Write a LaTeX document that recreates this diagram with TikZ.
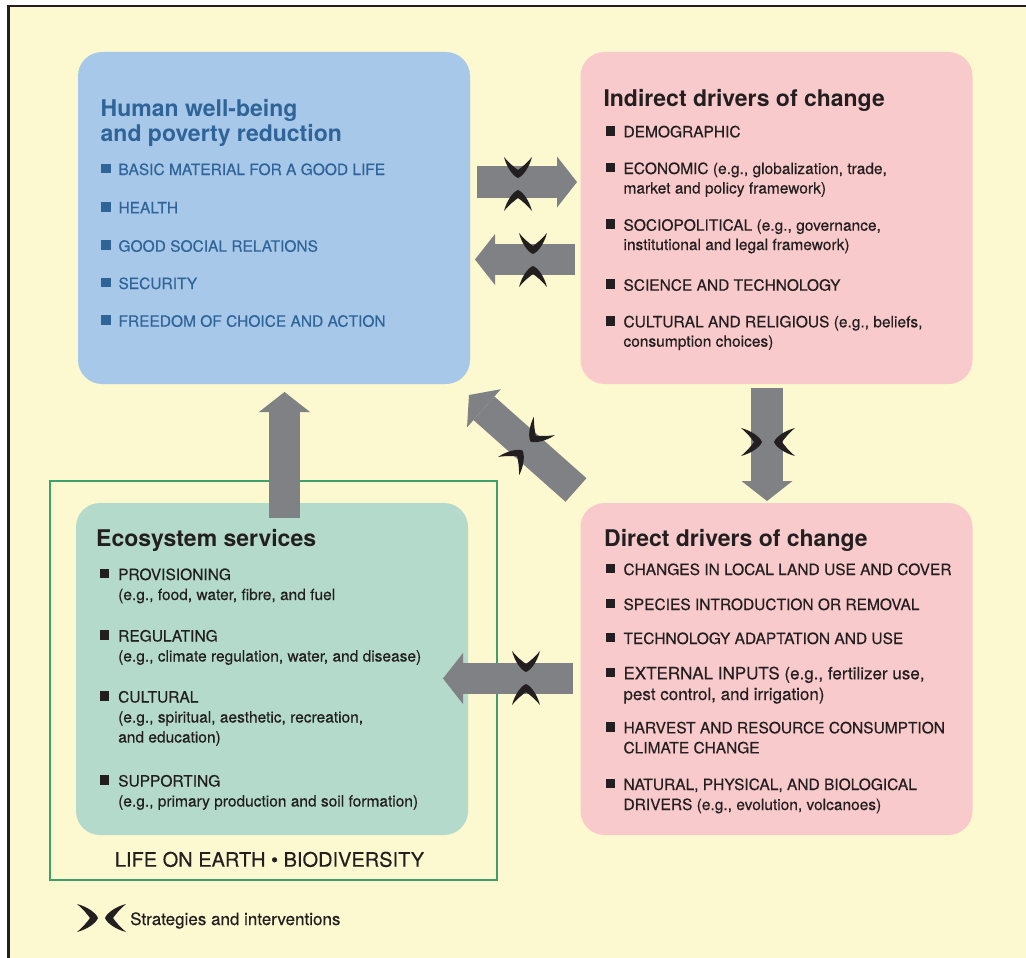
\documentclass[tikz,border=0pt]{standalone}
\usepackage{fontspec}
\setmainfont{TeX Gyre Heros}
\newfontfamily\itemfont[FakeBold=0.35]{TeX Gyre Heros}
\usetikzlibrary{arrows.meta}
\frenchspacing
\definecolor{cream}{HTML}{FCF8CF}
\definecolor{bluebox}{HTML}{A8C8E9}
\definecolor{pinkbox}{HTML}{F9CACB}
\definecolor{greenbox}{HTML}{B3DACA}
\definecolor{greenline}{HTML}{3F9F6B}
\definecolor{arrowgray}{HTML}{808184}
\definecolor{bluetxt}{HTML}{2F6499}
\definecolor{darktxt}{HTML}{231F20}
\tikzset{
  box/.style={draw=none, inner sep=0pt, rounded corners=24pt, minimum width=392pt, minimum height=332pt},
  ttl/.style={anchor=base west, inner sep=0pt, font=\fontsize{23}{26}\selectfont\bfseries, text=darktxt},
  itm/.style={anchor=base west, inner sep=0pt, font=\itemfont\fontsize{15.5}{18}\selectfont},
  bigitm/.style={anchor=base west, inner sep=0pt, font=\itemfont\fontsize{17}{20}\selectfont},
  bul/.style={inner sep=0pt, minimum size=9.5pt, draw=none},
  fat/.style={draw=arrowgray, line width=31.5pt, -{Triangle[length=20pt,width=51pt,line width=0pt]}},
  cres/.pic={\fill[darktxt] (-14,-21) .. controls (-11,-10) and (-5,-2) .. (0,0) .. controls (5,-2) and (11,-10) .. (14,-21)
      .. controls (8,-14) and (4,-11) .. (0,-8) .. controls (-4,-11) and (-8,-14) .. (-14,-21) -- cycle;}
}
% #1 name, #2 bullet x, #3 text x, #4 baseline y, #5 colour, #6 text
\newcommand\mkitem[6]{%
  \node[bul, fill=#5] (#1b) at (#2,#4-6.5) {};
  \node[itm, text=#5] (#1) at (#3,#4) {#6};
}
% #1 x, #2 y, #3 angle, #4 offset
\newcommand\strat[4]{%
  \pic[rotate=#3] at ([shift={(#3+90:#4pt)}]#1,#2) {cres};
  \pic[rotate=#3+180] at ([shift={(#3-90:#4pt)}]#1,#2) {cres};
}
\begin{document}
\begin{tikzpicture}[x=1pt, y=-1pt]
\useasboundingbox (0,0) rectangle (1026,958);
\fill[white] (0,0) rectangle (1026,958);
\fill[cream] (8.5,6) rectangle (1026,958);
\draw[darktxt, line width=2.5pt] (8.5,958) -- (8.5,6) -- (1026,6);

% life on earth frame
\draw[greenline, line width=2pt] (50,481) rectangle (496.5,880);

% boxes
\node[box, fill=bluebox] (hw) at (274,218) {};
\node[box, fill=pinkbox] (ind) at (776.5,218) {};
\node[box, fill=greenbox] (eco) at (272,669) {};
\node[box, fill=pinkbox] (dir) at (776.5,669) {};

% human well-being
\node[ttl, text=bluetxt] (hwt1) at (100.5,116.7) {Human well-being};
\node[ttl, text=bluetxt] (hwt2) at (100.5,141.7) {and poverty reduction};
\mkitem{hw1}{106}{118.3}{175}{bluetxt}{BASIC MATERIAL FOR A GOOD LIFE}
\mkitem{hw2}{106}{118.3}{213.3}{bluetxt}{HEALTH}
\mkitem{hw3}{106}{118.3}{251.7}{bluetxt}{GOOD SOCIAL RELATIONS}
\mkitem{hw4}{106}{118.3}{289}{bluetxt}{SECURITY}
\mkitem{hw5}{106}{118.3}{326.7}{bluetxt}{FREEDOM OF CHOICE AND ACTION}

% indirect drivers
\node[ttl] (indt) at (603.3,106.7) {Indirect drivers of change};
\mkitem{ind1}{610.5}{623.3}{137.3}{darktxt}{DEMOGRAPHIC}
\mkitem{ind2}{610.5}{623.3}{174}{darktxt}{ECONOMIC (e.g., globalization, trade,}
\node[itm, text=darktxt] (ind2c) at (623.3,193.5) {market and policy framework)};
\mkitem{ind3}{610.5}{623.3}{230.7}{darktxt}{SOCIOPOLITICAL (e.g., governance,}
\node[itm, text=darktxt] (ind3c) at (623.3,250) {institutional and legal framework)};
\mkitem{ind4}{610.5}{623.3}{290.7}{darktxt}{SCIENCE AND TECHNOLOGY}
\mkitem{ind5}{610.5}{623.3}{327.3}{darktxt}{CULTURAL AND RELIGIOUS (e.g., beliefs,}
\node[itm, text=darktxt] (ind5c) at (623.3,346.7) {consumption choices)};

% direct drivers
\node[ttl] (dirt) at (604,546) {Direct drivers of change};
\mkitem{dir1}{610.5}{623.3}{575}{darktxt}{CHANGES IN LOCAL LAND USE AND COVER}
\mkitem{dir2}{610.5}{623.3}{610}{darktxt}{SPECIES INTRODUCTION OR REMOVAL}
\mkitem{dir3}{610.5}{623.3}{644}{darktxt}{TECHNOLOGY ADAPTATION AND USE}
\node[bul, fill=darktxt] (dir4b) at (610.5,672.5) {};
\node[bigitm, text=darktxt] (dir4) at (623.3,679.3) {EXTERNAL INPUTS (e.g., fertilizer use,};
\node[bigitm, text=darktxt] (dir4c) at (623.3,700) {pest control, and irrigation)};
\mkitem{dir5}{610.5}{623.3}{733.3}{darktxt}{HARVEST AND RESOURCE CONSUMPTION}
\node[itm, text=darktxt] (dir5c) at (623.3,753.3) {CLIMATE CHANGE};
\mkitem{dir6}{610.5}{623.3}{790}{darktxt}{NATURAL, PHYSICAL, AND BIOLOGICAL}
\node[itm, text=darktxt] (dir6c) at (623.3,810) {DRIVERS (e.g., evolution, volcanoes)};

% ecosystem services
\node[ttl] (ecot) at (96,546) {Ecosystem services};
\mkitem{eco1}{104.5}{118}{580}{darktxt}{PROVISIONING}
\node[itm, text=darktxt] (eco1c) at (118,600) {(e.g., food, water, fibre, and fuel};
\mkitem{eco2}{104.5}{118}{641.5}{darktxt}{REGULATING}
\node[itm, text=darktxt] (eco2c) at (118,661.5) {(e.g., climate regulation, water, and disease)};
\mkitem{eco3}{104.5}{118}{702.5}{darktxt}{CULTURAL}
\node[itm, text=darktxt] (eco3c) at (118,722.5) {(e.g., spiritual, aesthetic, recreation,};
\node[itm, text=darktxt] (eco3d) at (118,742.5) {and education)};
\mkitem{eco4}{104.5}{118}{786.5}{darktxt}{SUPPORTING}
\node[itm, text=darktxt] (eco4c) at (118,806.5) {(e.g., primary production and soil formation)};

\node[anchor=base, inner sep=0pt, font=\itemfont\fontsize{20}{24}\selectfont, text=darktxt] (life) at (269.5,866.7) {LIFE ON EARTH \textbullet{} BIODIVERSITY};

% arrows
\coordinate (a1s) at (477,182);   \coordinate (a1e) at (577,182);
\coordinate (a2s) at (575,259.5); \coordinate (a2e) at (475,259.5);
\coordinate (a3s) at (767,388);   \coordinate (a3e) at (767,501);
\coordinate (a4s) at (576,490);   \coordinate (a4e) at (469,395);
\coordinate (a5s) at (284.5,518); \coordinate (a5e) at (284.5,392);
\coordinate (a6s) at (573,678.5); \coordinate (a6e) at (443,678.5);
\draw[fat] (a1s) -- (a1e);
\draw[fat] (a2s) -- (a2e);
\draw[fat] (a3s) -- (a3e);
\draw[fat] (a4s) -- (a4e);
\draw[fat] (a5s) -- (a5e);
\draw[fat] (a6s) -- (a6e);

% strategies and interventions
\strat{518}{184}{0}{6}
\strat{533}{260}{0}{6}
\strat{526}{678}{0}{6}
\strat{768}{442}{90}{6}
\strat{526.5}{446}{-41.6}{6}

% legend
\strat{101.5}{918}{90}{3.5}
\node[anchor=base west, inner sep=0pt, font=\itemfont\fontsize{17}{20}\selectfont, text=darktxt] (leg) at (130,925) {Strategies and interventions};
\end{tikzpicture}
\end{document}
